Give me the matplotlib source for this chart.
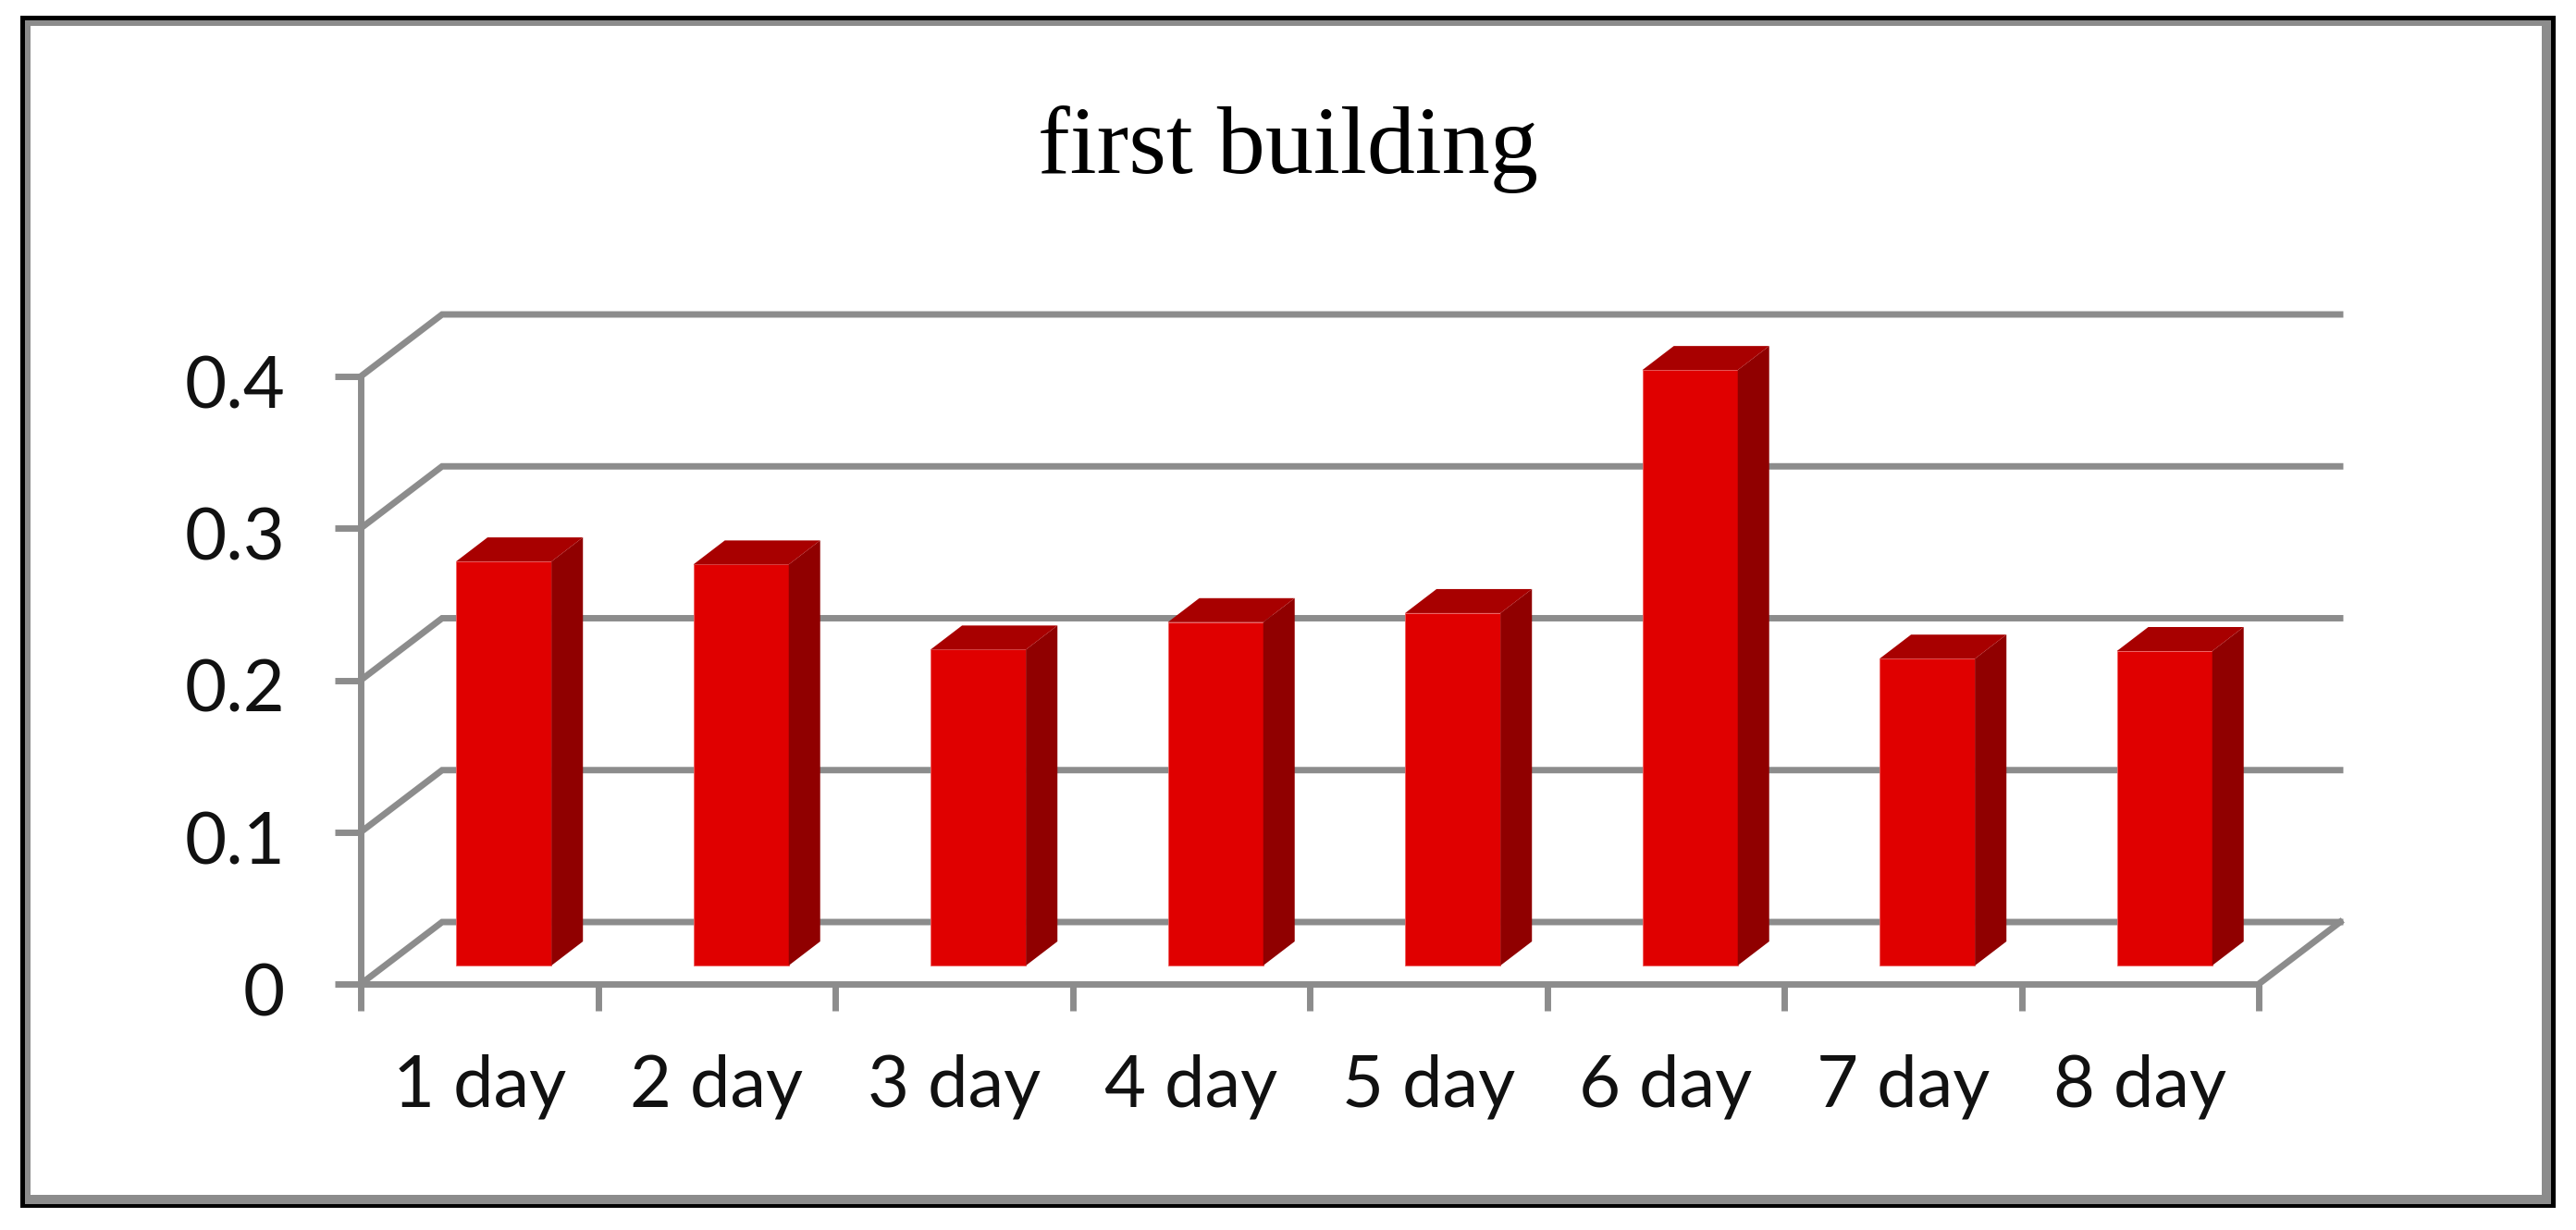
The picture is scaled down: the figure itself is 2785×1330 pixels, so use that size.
import matplotlib
matplotlib.use("Agg")
import matplotlib.pyplot as plt
from matplotlib.patches import Rectangle
from matplotlib.transforms import ScaledTranslation

categories = ["1 day", "2 day", "3 day", "4 day", "5 day", "6 day", "7 day", "8 day"]
values = [0.266, 0.264, 0.208, 0.226, 0.232, 0.392, 0.202, 0.207]
y_ticks = [0, 0.1, 0.2, 0.3, 0.4]
y_labels = ["0", "0.1", "0.2", "0.3", "0.4"]
title = "first building"

W, H = 2785, 1330
GRAY = "#8c8c8c"
FRONT, SIDE, TOP = "#e00000", "#900000", "#a80000"
LW = 5.0

fig = plt.figure(figsize=(W / 100, H / 100), dpi=100, facecolor="white")


def frame(x0, y0, x1, y1, color):
    fig.add_artist(Rectangle((x0 / W, 1 - y1 / H), (x1 - x0) / W, (y1 - y0) / H,
                             transform=fig.transFigure, facecolor=color,
                             edgecolor="none", zorder=-5))


frame(22, 17, 2763, 1306, "black")
frame(27, 22, 2758, 1302, GRAY)
frame(33, 28, 2748, 1292, "white")

ax = fig.add_axes([390 / W, 1 - 1064 / H, (2442 - 390) / W, (1064 - 407) / H])
ax.patch.set_alpha(0)
ax.set_xlim(0, 8)
ax.set_ylim(0, 0.4)

unit_x = 1 / ((2442 - 390) / 8)     # category units per pixel
unit_y = 0.4 / (1064 - 407)         # value units per pixel

# wall and floor
wall_dx, wall_dy = 88 * unit_x, 67 * unit_y
for v in y_ticks:
    ax.plot([0, wall_dx, 8 + wall_dx], [v, v + wall_dy, v + wall_dy],
            color=GRAY, lw=LW, clip_on=False, zorder=1, solid_joinstyle="miter")
ax.plot([8, 8 + wall_dx], [0, wall_dy], color=GRAY, lw=LW, clip_on=False, zorder=1)

# bars: front face from the axes scales, side and top as oblique faces
bar_left, bar_w = 0.402, 0.402
base = 20 * unit_y
side_dx, side_dy = 34 * unit_x, 26 * unit_y
for i, v in enumerate(values):
    x0 = i + bar_left
    x1 = x0 + bar_w
    top = v + base
    ax.bar(x0, v, width=bar_w, bottom=base, align="edge", color=FRONT,
           edgecolor="#f06060", linewidth=0.6, zorder=3, clip_on=False)
    ax.fill([x1, x1 + side_dx, x1 + side_dx, x1],
            [base, base + side_dy, top + side_dy, top],
            color=SIDE, lw=0, zorder=3, clip_on=False)
    ax.fill([x0, x1, x1 + side_dx, x0 + side_dx],
            [top, top, top + side_dy, top + side_dy],
            color=TOP, lw=0, zorder=3, clip_on=False)

for s in ("top", "right"):
    ax.spines[s].set_visible(False)
for s in ("left", "bottom"):
    ax.spines[s].set_color(GRAY)
    ax.spines[s].set_linewidth(LW)
    ax.spines[s].set_zorder(2)

ax.set_yticks(y_ticks, y_labels)
ax.set_xticks(range(9), [""] * 9)
ax.set_xticks([i + 0.5 for i in range(8)], categories, minor=True)
ax.tick_params(axis="y", length=20, width=LW, color=GRAY, pad=39,
               labelsize=56, labelcolor="#111111", labelfontfamily="Lato")
ax.tick_params(axis="x", which="major", length=21, width=LW, color=GRAY)
ax.tick_params(axis="x", which="minor", length=0, pad=54, labelsize=56,
               labelcolor="#111111", labelfontfamily="Lato")
shift = ScaledTranslation(0, -6 / 100, fig.dpi_scale_trans)
for lab in ax.get_yticklabels():
    lab.set_transform(lab.get_transform() + shift)

fig.text(1392 / W, 1 - 187 / H, title, ha="center", va="baseline", fontsize=75,
         family="Liberation Serif", color="black")

fig.savefig("out.png", dpi=100, facecolor="white")
